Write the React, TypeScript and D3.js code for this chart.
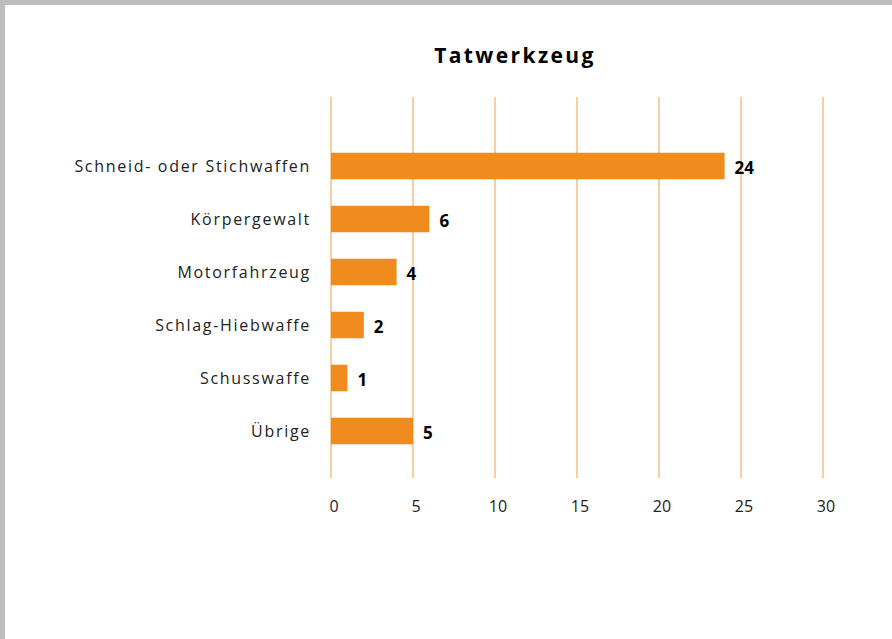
import { useEffect, useRef } from "react";
import * as d3 from "d3";

const categories = [
  "Schneid- oder Stichwaffen",
  "Körpergewalt",
  "Motorfahrzeug",
  "Schlag-Hiebwaffe",
  "Schusswaffe",
  "Übrige",
];
const values = [24, 6, 4, 2, 1, 5];
const ticks = [0, 5, 10, 15, 20, 25, 30];

const ORANGE = "#f08c1e";
const FONT = "'Open Sans', 'Noto Sans', sans-serif";

export default function App() {
  const ref = useRef<SVGSVGElement>(null);

  useEffect(() => {
    document.body.style.margin = "0";
    const svg = d3.select(ref.current);
    svg.selectAll("*").remove();

    const width = 892;
    const height = 639;
    svg.attr("width", width).attr("height", height);

    // frame
    svg.append("rect").attr("width", width).attr("height", height).attr("fill", "#bdbdbd");
    svg.append("rect").attr("x", 5).attr("y", 5).attr("width", width - 5).attr("height", height - 5).attr("fill", "#fff");

    svg.append("text")
      .attr("x", 515)
      .attr("y", 63)
      .attr("text-anchor", "middle")
      .attr("font-family", FONT)
      .attr("font-weight", "bold")
      .attr("font-size", "21px")
      .attr("letter-spacing", "2.4px")
      .attr("fill", "#000")
      .text("Tatwerkzeug");

    const x = d3.scaleLinear().domain([0, 30]).range([331, 823]);
    const y = d3.scaleBand()
      .domain(categories)
      .range([139.5, 457.5])
      .paddingInner(0.5)
      .paddingOuter(0.25);

    // gridlines
    svg.append("g")
      .selectAll("line")
      .data(ticks)
      .join("line")
      .attr("x1", d => x(d))
      .attr("x2", d => x(d))
      .attr("y1", 97)
      .attr("y2", 478)
      .attr("stroke", ORANGE)
      .attr("stroke-opacity", 0.85)
      .attr("stroke-width", 1);

    // tick labels
    svg.append("g")
      .selectAll("text")
      .data(ticks)
      .join("text")
      .attr("x", d => x(d) + 3)
      .attr("y", 512)
      .attr("text-anchor", "middle")
      .attr("font-family", FONT)
      .attr("font-size", "16px")
      .attr("fill", "#222")
      .text(d => d);

    // bars
    svg.append("g")
      .selectAll("rect")
      .data(values)
      .join("rect")
      .attr("x", x(0))
      .attr("y", (_, i) => y(categories[i])!)
      .attr("width", d => x(d) - x(0))
      .attr("height", y.bandwidth())
      .attr("fill", ORANGE);

    // value labels
    svg.append("g")
      .selectAll("text")
      .data(values)
      .join("text")
      .attr("x", d => x(d) + 10)
      .attr("y", (_, i) => y(categories[i])! + y.bandwidth() / 2 + 1)
      .attr("dominant-baseline", "central")
      .attr("font-family", FONT)
      .attr("font-weight", "bold")
      .attr("font-size", "17px")
      .attr("fill", "#000")
      .text(d => d);

    // category labels
    svg.append("g")
      .selectAll("text")
      .data(categories)
      .join("text")
      .attr("x", 311)
      .attr("y", d => y(d)! + y.bandwidth() / 2)
      .attr("dominant-baseline", "central")
      .attr("text-anchor", "end")
      .attr("font-family", FONT)
      .attr("font-size", "16px")
      .attr("letter-spacing", "1.7px")
      .attr("fill", "#222")
      .text(d => d);
  }, []);

  return <svg ref={ref} style={{ display: "block" }}></svg>;
}
